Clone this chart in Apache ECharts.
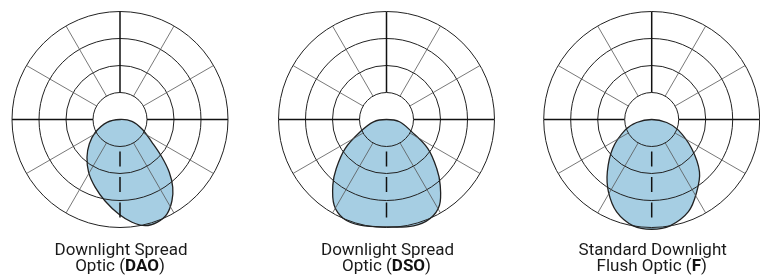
<!DOCTYPE html>
<html><head><meta charset="utf-8">
<script src="https://cdn.jsdelivr.net/npm/echarts@6/dist/echarts.min.js"></script>
<style>html,body{margin:0;padding:0;background:#fff}#c{width:760px;height:280px}</style>
</head><body><div id="c"></div>
<script>
// Angles in degrees from nadir (straight down), positive = to the right.
// Radii as relative intensity, outer ring = 100.
const DAO_ANGLES = [-90,-77.8,-62.6,-51.4,-41.1,-30.7,-20,-10.2,-0.8,6.7,13.4,19.8,26.4,32.6,37.9,43,48,54.5,66.6,81.5,90];
const DAO_R      = [0,12.3,25.7,36.4,46.5,56.9,66.9,76.9,87.5,95.8,101.1,101.2,97.7,89.3,79.5,66.9,52.3,36.4,22.2,11.2,0];
const DSO_ANGLES = [-90,-80,-64.9,-54.9,-45.7,-39.3,-31.4,-23.5,-14,0,14.3,23.8,31.7,39.3,45.7,54.9,64,80,90];
const DSO_R      = [0,12.2,26.9,46.8,65,78.5,93,99.9,100.8,99.4,101.6,100.2,93.3,78.5,65,46.8,26.1,12.2,0];
const F_ANGLES   = [-90,-78.7,-68.2,-53.4,-40.3,-30.9,-20.8,-9.8,0,9.8,21.7,31.9,42.4,54,68.2,78.7,90];
const F_R        = [0,14.2,26.6,45,63.5,78,91.4,99.9,101.6,99.9,91.9,78.9,65.6,45.7,26.6,14.2,0];
const SHAPES = [[DAO_ANGLES, DAO_R], [DSO_ANGLES, DSO_R], [F_ANGLES, F_R]];
// grid rings and spokes
const RING_MIN = 25, RING_MAX = 100, RING_STEP = 25;
const SPOKE_STEP = 30;
const SOLID_ARMS = [0, 90, 270];
const DASHED_ARM = 180;
const TITLE_LINE1 = ['Downlight Spread', 'Downlight Spread', 'Standard Downlight'];
const TITLE_PRE = ['Optic (', 'Optic (', 'Flush Optic ('];
const TITLE_BOLD = ['DAO', 'DSO', 'F'];
const TITLE_POST = [')', ')', ')'];

const CX = [120, 386.5, 651.7];
const CY = 119.5;
const R_OUT = 108, R_IN = 27;

const chart = echarts.init(document.getElementById('c'), null, {renderer: 'canvas'});
const polar = [], angleAxis = [], radiusAxis = [], series = [], graphic = [];
const spokeColors = [];
for (let a = 0; a < 360; a += SPOKE_STEP) spokeColors.push(a % 90 === 0 ? 'rgba(0,0,0,0)' : '#555');

function shapeRenderer(rows) {
  return function (params, api) {
    if (params.dataIndex !== 0) return {type: 'group', children: []};
    const pts = [];
    rows.forEach(d => {
      const p = api.coord([d[0], d[1]]);
      const last = pts[pts.length - 1];
      if (!last || Math.hypot(p[0] - last[0], p[1] - last[1]) > 0.01) pts.push(p);
    });
    if (pts.length > 1) {
      const f = pts[0], l = pts[pts.length - 1];
      if (Math.hypot(f[0] - l[0], f[1] - l[1]) < 0.01) pts.pop();
    }
    return {
      type: 'polygon', silent: true,
      shape: {points: pts, smooth: 0.36},
      style: {fill: '#a6cee3', stroke: '#222', lineWidth: 1.3}
    };
  };
}

CX.forEach((cx, i) => {
  polar.push({center: [cx, CY], radius: [R_IN, R_OUT]});
  polar.push({center: [cx, CY], radius: [0, R_OUT * 1.2]});
  angleAxis.push({
    polarIndex: 2 * i, type: 'value', min: 0, max: 360, interval: SPOKE_STEP,
    startAngle: 90, clockwise: true, z: 3,
    axisLine: {show: false}, axisTick: {show: false}, axisLabel: {show: false},
    splitLine: {show: true, lineStyle: {color: spokeColors, width: 0.8}}
  });
  radiusAxis.push({
    polarIndex: 2 * i, type: 'value', min: RING_MIN, max: RING_MAX, interval: RING_STEP, z: 3,
    axisLine: {show: false}, axisTick: {show: false}, axisLabel: {show: false},
    splitLine: {show: true, lineStyle: {color: '#222', width: 1}}
  });
  angleAxis.push({
    polarIndex: 2 * i + 1, type: 'value', min: -180, max: 180,
    startAngle: 90, clockwise: false,
    axisLine: {show: false}, axisTick: {show: false}, axisLabel: {show: false}, splitLine: {show: false}
  });
  radiusAxis.push({
    polarIndex: 2 * i + 1, type: 'value', min: 0, max: 120,
    axisLine: {show: false}, axisTick: {show: false}, axisLabel: {show: false}, splitLine: {show: false}
  });
  const [angs, rs] = SHAPES[i];
  const rows = angs.map((a, k) => [rs[k], a]);
  series.push({
    type: 'custom', coordinateSystem: 'polar', polarIndex: 2 * i + 1,
    data: rows, renderItem: shapeRenderer(rows), clip: false, silent: true, z: 2
  });
  SOLID_ARMS.forEach(a => {
    series.push({
      type: 'line', coordinateSystem: 'polar', polarIndex: 2 * i,
      data: [[RING_MIN, a], [RING_MAX, a]], symbol: 'none', silent: true, z: 4,
      lineStyle: {color: '#111', width: 1.5}
    });
  });
  series.push({
    type: 'line', coordinateSystem: 'polar', polarIndex: 2 * i,
    data: [[RING_MIN, DASHED_ARM], [RING_MAX, DASHED_ARM]], symbol: 'none', silent: true, z: 4,
    lineStyle: {color: '#111', width: 1.5, type: [15, 10.5], dashOffset: 20.5}
  });
  graphic.push({
    type: 'text', x: cx + 1, y: 251, silent: true,
    style: {text: TITLE_LINE1[i], fontFamily: 'Roboto', fontSize: 17, fill: '#1a1a1a',
      align: 'center', verticalAlign: 'middle', textAlign: 'center', textVerticalAlign: 'middle'}
  });
  graphic.push({
    type: 'text', x: cx, y: 267, silent: true,
    style: {
      text: '{n|' + TITLE_PRE[i] + '}{b|' + TITLE_BOLD[i] + '}{n|' + TITLE_POST[i] + '}',
      align: 'center', verticalAlign: 'middle', textAlign: 'center', textVerticalAlign: 'middle',
      rich: {
        n: {fontFamily: 'Roboto', fontSize: 17, fill: '#1a1a1a', color: '#1a1a1a'},
        b: {fontFamily: 'Roboto', fontSize: 17, fontWeight: 'bold', fill: '#111', color: '#111'}
      }
    }
  });
});

chart.setOption({
  animation: false,
  backgroundColor: '#fff',
  polar, angleAxis, radiusAxis, series, graphic
});
</script>
</body></html>
